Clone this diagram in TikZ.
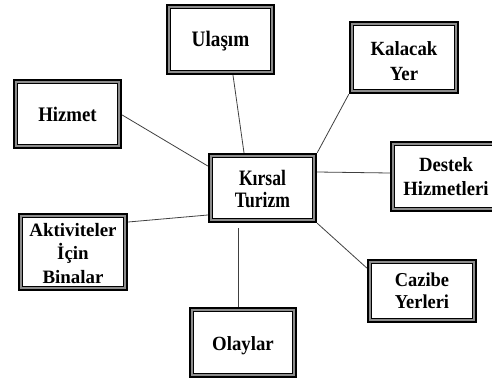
\documentclass[tikz,border=0pt]{standalone}
\usepackage{fontspec}
\setmainfont{Liberation Serif}
% #1 raise, #2 vertical scale, #3 font size, #4 baselineskip, #5 text
\newcommand\boxtext[5]{\raisebox{#1}{\scalebox{1}[#2]{\fontsize{#3}{#4}\selectfont\bfseries\begin{tabular}[t]{@{}c@{}}#5\end{tabular}}}}
\begin{document}
\begin{tikzpicture}[x=1pt,y=-1pt,
  box/.style={draw=black, line width=2.4pt, fill=white, align=center,
    inner sep=0pt, text height=0pt, text depth=0pt,
    path picture={
      \draw[black!45, line width=1.4pt] ([shift={(2.1pt,-2.1pt)}]path picture bounding box.north west) rectangle ([shift={(-2.1pt,2.1pt)}]path picture bounding box.south east);
      \draw[black, line width=0.8pt] ([shift={(3.2pt,-3.2pt)}]path picture bounding box.north west) rectangle ([shift={(-3.2pt,3.2pt)}]path picture bounding box.south east);
    }},
  link/.style={draw=black!75, line width=0.8pt}]
\useasboundingbox (0,0) rectangle (492,380);
\node[box, minimum width=107pt, minimum height=69pt] (ul) at (220.5,39.5)
  {\boxtext{-7pt}{1.15}{19.2}{22pt}{Ulaşım}};
\node[box, minimum width=108pt, minimum height=71pt] (kal) at (404,57.5)
  {\boxtext{2.5pt}{1.07}{18.8}{23.4pt}{Kalacak\\Yer}};
\node[box, minimum width=107pt, minimum height=68pt] (hz) at (67.5,114)
  {\boxtext{-7pt}{1.1}{18.8}{22pt}{Hizmet}};
\node[box, minimum width=107pt, minimum height=68pt] (k) at (262.5,188)
  {\boxtext{3pt}{1.25}{17.6}{17.6pt}{Kırsal\\Turizm}};
\node[box, minimum width=110pt, minimum height=69pt] (ds) at (446,176.5)
  {\boxtext{4.8pt}{1.08}{18.7}{21.6pt}{Destek\\Hizmetleri}};
\node[box, minimum width=108pt, minimum height=76pt] (akt) at (73,252)
  {\boxtext{15.3pt}{1.0}{18.9}{23.2pt}{Aktiviteler\\İçin\\Binalar}};
\node[box, minimum width=108pt, minimum height=62pt] (cz) at (422,291)
  {\boxtext{5pt}{1.07}{18.4}{20.8pt}{Cazibe\\Yerleri}};
\node[box, minimum width=106pt, minimum height=69pt] (ol) at (243,342.5)
  {\boxtext{-7.5pt}{1.07}{18.8}{22pt}{Olaylar}};
\draw[link] ([xshift=12.5pt]ul.south) -- ([xshift=-18.5pt]k.north);
\draw[link] ([yshift=-1pt]hz.east) -- ([yshift=22pt]k.west);
\draw[link] (kal.south west) -- (k.north east);
\draw[link] ([yshift=30pt]akt.east) -- ([yshift=-27pt]k.west);
\draw[link] ([xshift=-24.5pt,yshift=-5pt]k.south) -- ([xshift=-5pt]ol.north);
\draw[link] (k.south east) -- ([yshift=23pt]cz.west);
\draw[link] ([yshift=16pt]k.east) -- ([yshift=3.5pt]ds.west);
\end{tikzpicture}
\end{document}
